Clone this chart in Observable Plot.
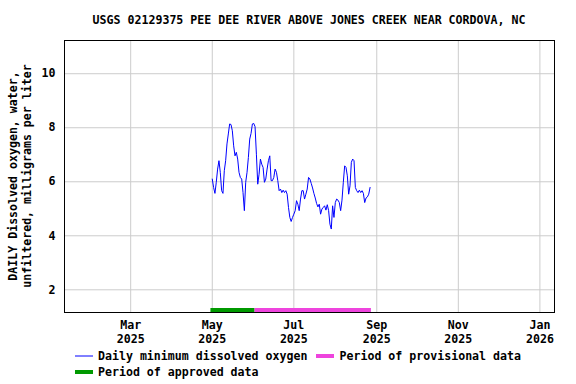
<!DOCTYPE html>
<html>
<head>
<meta charset="utf-8">
<script src="https://cdn.jsdelivr.net/npm/d3@7"></script>
<script src="https://cdn.jsdelivr.net/npm/@observablehq/plot@0.6"></script>
<style>
  html, body { margin: 0; padding: 0; background: white; }
</style>
</head>
<body>
<div id="chart"></div>
<script>
// ---- data ----
const titleText = "USGS 02129375 PEE DEE RIVER ABOVE JONES CREEK NEAR CORDOVA, NC";
const yLabelLines = ["DAILY Dissolved oxygen, water,", "unfiltered, milligrams per liter"];
const seriesStart = "2025-05-01";
// Daily minimum dissolved oxygen (mg/L), one value per day starting May 1, 2025
const doValues = [
  6.10, 5.79, 5.57, 5.98, 6.47, 6.78, 6.35, 5.67, 5.57, 6.41,
  6.78, 7.40, 7.77, 8.14, 8.12, 7.89, 7.33, 6.96, 7.09, 6.84,
  6.35, 6.16, 6.10, 5.60, 4.93, 5.98, 6.35, 6.90, 7.58, 7.79,
  8.14, 8.16, 8.04, 7.02, 5.91, 6.28, 6.84, 6.65, 6.53, 5.98,
  6.10, 6.47, 6.78, 6.96, 6.04, 6.04, 6.16, 6.47, 6.35, 6.04,
  5.67, 5.73, 5.60, 5.69, 5.60, 5.67, 5.54, 5.05, 4.68, 4.53,
  4.68, 4.80, 4.93, 5.30, 5.17, 4.93, 5.36, 5.67, 5.67, 5.36,
  5.54, 5.73, 6.16, 6.10, 5.94, 5.77, 5.57, 5.40, 5.20, 5.07,
  5.17, 4.80, 4.99, 5.05, 5.11, 4.95, 5.15, 4.93, 4.43, 4.25,
  5.11, 4.68, 5.23, 5.36, 5.32, 5.23, 4.93, 5.32, 5.98, 6.59,
  6.53, 6.22, 5.54, 5.85, 6.72, 6.84, 6.78, 5.79, 5.67, 5.60,
  5.69, 5.60, 5.67, 5.57, 5.23, 5.40, 5.44, 5.54, 5.79
];
const periodNames = ["Period of approved data", "Period of provisional data"];
const periodStarts = ["2025-04-30", "2025-06-02"];
const periodEnds = ["2025-06-02", "2025-08-28"];
const periodColors = ["#009900", "#ee44dd"];
const xTickDates = ["2025-03-01", "2025-05-01", "2025-07-01", "2025-09-01", "2025-11-01", "2026-01-01"];
const yTickValues = [2, 4, 6, 8, 10];
const xDomain = ["2025-01-10T12:00Z", "2026-01-11T22:00Z"];
const yDomain = [1.16, 11.23];
const seriesName = "Daily minimum dissolved oxygen";

// ---- build ----
const start = new Date(seriesStart + "T00:00Z");
const series = doValues.map((v, i) => ({date: d3.utcDay.offset(start, i), value: v}));
const periods = periodNames.map((n, i) => ({
  name: n, start: new Date(periodStarts[i] + "T00:00Z"), end: new Date(periodEnds[i] + "T00:00Z"), color: periodColors[i]
}));
const xTicks = xTickDates.map(d => new Date(d + "T00:00Z"));
const fmt = d => d3.utcFormat("%b")(d) + "\n" + d3.utcFormat("%Y")(d);
const barTop = yDomain[0] + 4 / 27;

const FONT = "DejaVu Sans Mono";
const chart = Plot.plot({
  width: 576,
  height: 384,
  marginLeft: 64,
  marginRight: 22,
  marginTop: 40,
  marginBottom: 72,
  style: {fontFamily: FONT, fontWeight: "bold", fontSize: "11.6px", background: "white", color: "black"},
  x: {type: "utc", domain: xDomain.map(d => new Date(d)), label: null},
  y: {domain: yDomain, label: null},
  color: {type: "identity"},
  marks: [
    Plot.gridX(xTicks, {stroke: "#cccccc", strokeOpacity: 1}),
    Plot.gridY(yTickValues, {stroke: "#cccccc", strokeOpacity: 1}),
    Plot.rect(periods, {x1: "start", x2: "end", y1: yDomain[0], y2: barTop, fill: "color"}),
    Plot.line(series, {x: "date", y: "value", stroke: "#0000ff", strokeWidth: 1}),
    Plot.frame({stroke: "black", strokeWidth: 1}),
    Plot.axisX(xTicks, {tickSize: 0, tickPadding: 7, tickFormat: fmt, lineHeight: 1.2, label: null, fontWeight: "bold"}),
    Plot.axisY(yTickValues, {tickSize: 0, tickPadding: 9, label: null, fontWeight: "bold"})
  ]
});
document.getElementById("chart").appendChild(chart);

// ---- title, y label, legend ----
const svg = d3.select(chart);
const txt = (x, y, s, anchor = "start") => svg.append("text")
  .attr("x", x).attr("y", y).attr("dy", "0.35em")
  .attr("text-anchor", anchor)
  .attr("font-family", FONT).attr("font-weight", "bold").attr("font-size", "11.6px")
  .attr("fill", "black").text(s);

txt(309, 20, titleText, "middle");
yLabelLines.forEach((s, i) => {
  txt(0, 0, s, "middle").attr("transform", `translate(${12.5 + i * 14.3},176) rotate(-90)`);
});

// legend
svg.append("line").attr("x1", 75).attr("x2", 93).attr("y1", 356).attr("y2", 356)
  .attr("stroke", "#0000ff").attr("stroke-width", 1);
txt(98, 356, seriesName);
svg.append("rect").attr("x", 316).attr("y", 354).attr("width", 18).attr("height", 4).attr("fill", periodColors[1]);
txt(339.5, 356, periodNames[1]);
svg.append("rect").attr("x", 75).attr("y", 370).attr("width", 18).attr("height", 4).attr("fill", periodColors[0]);
txt(98, 372, periodNames[0]);
</script>
</body>
</html>
